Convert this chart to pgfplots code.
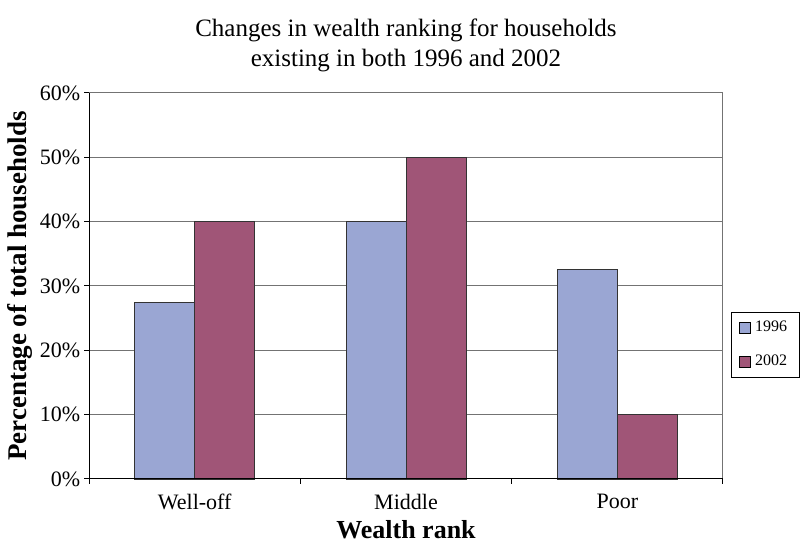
\documentclass[border=0pt]{standalone}
\usepackage{fontspec}
\setmainfont{Liberation Serif}
\usepackage{pgfplots}
\pgfplotsset{compat=1.18}
\definecolor{c96}{HTML}{9AA6D3}
\definecolor{c02}{HTML}{A05577}
\begin{document}
\begin{tikzpicture}
\begin{axis}[
  scale only axis, width=317pt, height=193pt,
  xmin=-0.5, xmax=2.5, ymin=0, ymax=60,
  ybar=0pt, bar width=30pt,
  xtick={-0.5,0.5,1.5,2.5}, xticklabels={},
  extra x ticks={0,1,2}, extra x tick labels={Well-off,Middle,Poor},
  extra x tick style={major tick length=0pt, xticklabel style={yshift=-4pt}},
  x tick style={black, line width=0.5pt},
  ytick={0,10,...,60},
  yticklabel={\pgfmathprintnumber{\tick}\%},
  yticklabel style={xshift=1.6pt},
  /pgf/number format/assume math mode=true,
  ymajorgrids, grid style={black!55, line width=0.5pt},
  major tick length=2.5pt,
  tick align=outside, tick pos=left,
  y tick style={black, line width=0.5pt},
  axis line style={black!55, line width=0.5pt},
  tick label style={font=\fontsize{11}{13}\selectfont},
  title={Changes in wealth ranking for households\\existing in both 1996 and 2002},
  title style={at={(rel axis cs:0.5,1.093)}, anchor=center, align=center, font=\fontsize{12.5}{15}\selectfont},
  xlabel={Wealth rank}, ylabel={Percentage of total households},
  xlabel style={at={(rel axis cs:0.5,-0.132)}, anchor=center, font=\fontsize{13}{15}\selectfont\bfseries},
  ylabel style={at={(rel axis cs:-0.109,0.5)}, anchor=center, font=\fontsize{13.5}{15}\selectfont\bfseries},
  legend style={at={(rel axis cs:1.0126,0.347)}, anchor=west, draw=black, line width=0.5pt,
    font=\fontsize{8}{9}\selectfont, row sep=6pt, inner xsep=4pt, inner ysep=2.5pt},
  legend image code/.code={\draw[#1, draw=black, line width=0.4pt] (0cm,-0.1cm) rectangle (0.19cm,0.1cm);},
  clip=false,
]
\addplot[fill=c96, draw=black!80, line width=0.4pt] coordinates {(0,27.5) (1,40) (2,32.5)};
\addplot[fill=c02, draw=black!80, line width=0.4pt] coordinates {(0,40) (1,50) (2,10)};
\legend{1996,2002}
\draw[black, line width=0.5pt] (rel axis cs:0,1) -- (rel axis cs:0,0) -- (rel axis cs:1,0);
\path (rel axis cs:-0.1404,-0.158) rectangle (rel axis cs:1.1262,1.2409);
\end{axis}
\end{tikzpicture}
\end{document}
